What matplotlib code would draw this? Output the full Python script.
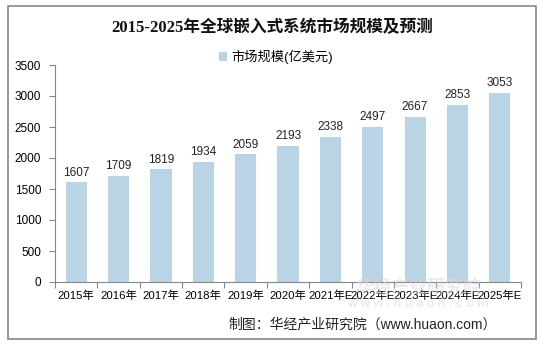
import numpy as np
import matplotlib.pyplot as plt
from matplotlib.patches import Rectangle

plt.rcParams['font.family'] = ['Liberation Sans', 'Noto Sans CJK SC', 'DejaVu Sans']

years = ['2015年', '2016年', '2017年', '2018年', '2019年', '2020年',
         '2021年E', '2022年E', '2023年E', '2024年E', '2025年E']
market = [1607, 1709, 1819, 1934, 2059, 2193, 2338, 2497, 2667, 2853, 3053]

bar_color = '#b9d4e5'
axis_color = '#868686'

fig = plt.figure(figsize=(5.47, 3.47), dpi=100)
ax = fig.add_axes([55/547, 1 - 282/347, 466/547, 217/347])

x = np.arange(len(years))
bars = ax.bar(x, market, width=0.5, color=bar_color, label='市场规模(亿美元)', zorder=2)
for xi, v in zip(x, market):
    ax.text(xi, v + 60, str(v), ha='center', va='bottom', fontsize=8.5, color='#222222')

ax.set_xlim(-0.5, len(years) - 0.5)
ax.set_ylim(0, 3500)
ax.set_yticks(range(0, 3501, 500))
ax.tick_params(axis='y', labelsize=8.5, length=4, color=axis_color, pad=6)

ax.set_xticks(np.arange(-0.5, len(years), 1))
ax.set_xticklabels([])
ax.set_xticks(x, minor=True)
ax.set_xticklabels(years, minor=True, fontsize=8.2)
ax.tick_params(axis='x', which='major', length=4, color=axis_color)
ax.tick_params(axis='x', which='minor', length=0, pad=6)

for s in ['top', 'right']:
    ax.spines[s].set_visible(False)
for s in ['left', 'bottom']:
    ax.spines[s].set_color(axis_color)

fig.text(272/547, 1 - 28/347, '2015-2025年全球嵌入式系统市场规模及预测',
         ha='center', va='center', fontsize=12, fontweight='bold', color='#111111',
         family=['Liberation Serif', 'Noto Sans CJK SC'])

leg = fig.legend(handles=[bars], loc='center', bbox_to_anchor=(276/547, 1 - 57/347),
                 frameon=False, fontsize=9.5, handlelength=0.6, handleheight=0.6,
                 handletextpad=0.3, borderpad=0)

# watermark
fig.text(418/547, 1 - 289/347, '华经产业研究院', ha='center', va='center',
         fontsize=13, fontweight='bold', color='#d8d8d8', alpha=0.5, zorder=0)
fig.text(418/547, 1 - 304/347, 'w w w . h u a o n . c o m', ha='center', va='center',
         fontsize=9, fontweight='bold', color='#d8d8d8', alpha=0.5, zorder=0)

fig.text(497/547, 1 - 324/347, '制图：华经产业研究院（www.huaon.com）',
         ha='right', va='center', fontsize=10, color='#222222')

fig.patches.append(Rectangle((8/547, 1 - 339/347), 528/547, 333/347,
                             transform=fig.transFigure, fill=False,
                             edgecolor=axis_color, linewidth=1.2))

fig.savefig('out.png', dpi=100)
